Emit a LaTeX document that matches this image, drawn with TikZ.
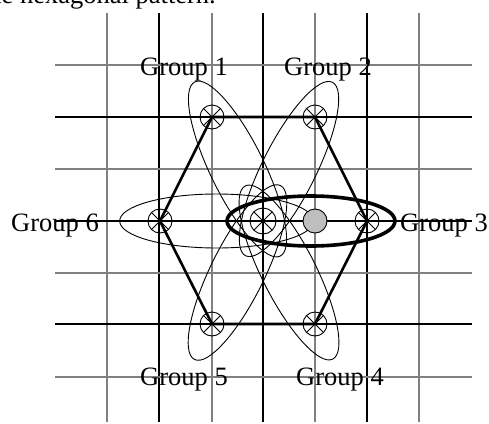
\documentclass[tikz,border=0pt]{standalone}
\usepackage{fontspec}
\setmainfont{Liberation Serif}
\usetikzlibrary{calc}
\tikzset{
  gridgray/.style={gray, line width=1.8pt},
  gridblack/.style={black, line width=1.2pt},
  orbit/.style={line width=0.9pt},
  hexline/.style={line width=2.6pt, line join=round},
  xmark/.style={circle, draw, line width=0.9pt, minimum size=24pt, inner sep=0pt,
    path picture={\draw[line width=0.9pt]
      (path picture bounding box.north east) -- (path picture bounding box.south west)
      (path picture bounding box.north west) -- (path picture bounding box.south east);}},
  grouplabel/.style={font=\fontsize{26.5}{30}\selectfont, inner sep=0pt, anchor=base},
}
\begin{document}
\begin{tikzpicture}[x=1pt, y=-1pt]
  \useasboundingbox (0,0) rectangle (489,423);
  \node[grouplabel, anchor=base east] (caption) at (216,4) {the hexagonal pattern.};
  % grid
  \foreach \x in {107,212,315,419} \draw[gridgray] (\x,13) -- (\x,422);
  \foreach \x in {159,263,367} \draw[gridblack] (\x,13) -- (\x,422);
  \foreach \y in {65,169,273,377} \draw[gridgray] (55,\y) -- (472,\y);
  \foreach \y in {117,221,324} \draw[gridblack] (55,\y) -- (472,\y);
  % labels
  \node[grouplabel] (l1) at (184,75) {Group 1};
  \node[grouplabel] (l2) at (328,75) {Group 2};
  \node[grouplabel] (l3) at (444,231) {Group 3};
  \node[grouplabel] (l4) at (340,385) {Group 4};
  \node[grouplabel] (l5) at (184,385) {Group 5};
  \node[grouplabel] (l6) at (55,231) {Group 6};
  % sites
  \coordinate (c) at (263,221);
  \coordinate (g1) at (212,117);
  \coordinate (g2) at (315,117);
  \coordinate (g3) at (367,221);
  \coordinate (g4) at (315,324);
  \coordinate (g5) at (212,324);
  \coordinate (g6) at (160,221);
  % orbits
  \draw[orbit, rotate around={-63.9:($(g1)!0.5!(c)$)}] ($(g1)!0.5!(c)$) ellipse [x radius=97, y radius=27];
  \draw[orbit, rotate around={63.4:($(g2)!0.5!(c)$)}] ($(g2)!0.5!(c)$) ellipse [x radius=97, y radius=27];
  \draw[orbit, rotate around={-63.2:($(g4)!0.5!(c)$)}] ($(g4)!0.5!(c)$) ellipse [x radius=97, y radius=27];
  \draw[orbit, rotate around={63.7:($(g5)!0.5!(c)$)}] ($(g5)!0.5!(c)$) ellipse [x radius=97, y radius=27];
  \draw[orbit] ($(g6)!0.55!(c)$) ellipse [x radius=97, y radius=27];
  \draw[line width=3.6pt] (311,221) ellipse [x radius=84, y radius=25];
  % hexagon
  \draw[hexline] (g1) -- (g2) -- (g3) -- (g4) -- (g5) -- (g6) -- cycle;
  \node[xmark] (n1) at (g1) {};
  \node[xmark] (n2) at (g2) {};
  \node[xmark] (n3) at (g3) {};
  \node[xmark] (n4) at (g4) {};
  \node[xmark] (n5) at (g5) {};
  \node[xmark] (n6) at (g6) {};
  \node[xmark, minimum size=26pt] (n0) at (c) {};
  \node[circle, draw, line width=0.9pt, fill=black!25, minimum size=24pt, inner sep=0pt] (nv) at (315,221) {};
\end{tikzpicture}
\end{document}
